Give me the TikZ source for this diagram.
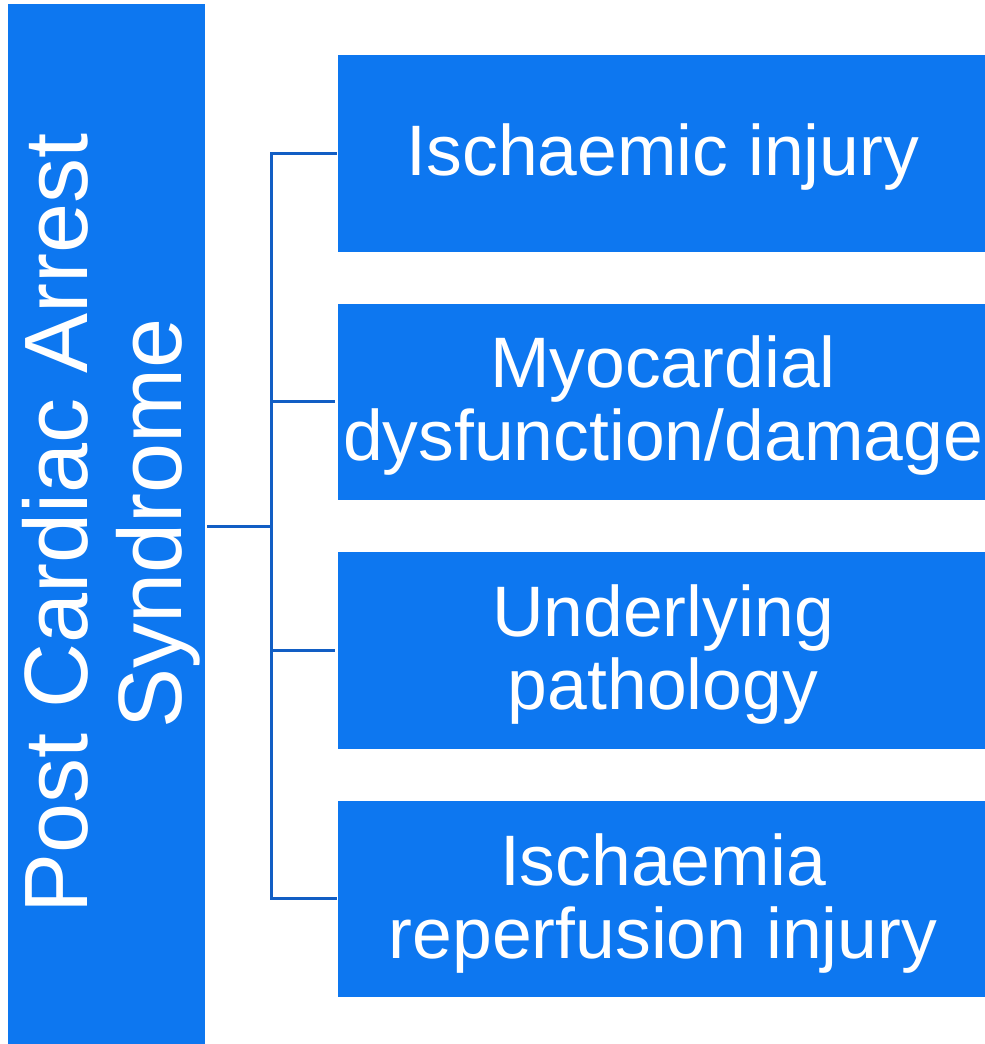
\documentclass[tikz,border=0pt]{standalone}
\usepackage{fontspec}
\setmainfont{Liberation Sans}
\definecolor{boxblue}{RGB}{13,119,240}
\definecolor{lineblue}{RGB}{18,94,196}
\begin{document}
\begin{tikzpicture}[x=1pt,y=-1pt,
  bluebox/.style={draw=none,fill=boxblue,rectangle,inner sep=0pt,minimum width=647pt,minimum height=196.5pt},
  boxtext/.style={text=white,anchor=base,inner sep=0pt,font=\fontsize{71.5}{73.5}\selectfont},
  sidetext/.style={text=white,anchor=base,inner sep=0pt,rotate=90,font=\fontsize{90}{94}\selectfont},
  conn/.style={draw=lineblue,line width=3pt}]
\useasboundingbox (0,0) rectangle (985,1044);
% left box
\node[draw=none,fill=boxblue,rectangle,inner sep=0pt,minimum width=196.5pt,minimum height=1040.5pt] (L) at (106.25,523.75) {};
\node[sidetext] (L1) at (87,523.5) {Post Cardiac Arrest};
\node[sidetext] (L2) at (181,523.5) {Syndrome};
% right boxes
\node[bluebox] (b1) at (661.5,153.25) {};
\node[bluebox] (b2) at (661.5,401.75) {};
\node[bluebox] (b3) at (661.5,650.25) {};
\node[bluebox] (b4) at (661.5,898.75) {};
\node[boxtext] (t1) at (663,175) {Ischaemic injury};
\node[boxtext] (t2a) at (663,387) {Myocardial};
\node[boxtext] (t2b) at (663,460) {dysfunction/damage};
\node[boxtext] (t3a) at (663,636) {Underlying};
\node[boxtext] (t3b) at (663,709) {pathology};
\node[boxtext] (t4a) at (663,885) {Ischaemia};
\node[boxtext] (t4b) at (663,958) {reperfusion injury};
% connectors
\coordinate (hub) at (271,526);
\draw[conn,shorten <=2.5pt] (L.east |- hub) -- (hub);
\draw[conn,line cap=rect,shorten >=2.5pt] (hub) |- (b1.west);
\draw[conn,shorten >=2.5pt] (hub) |- (b2.west);
\draw[conn,shorten >=2.5pt] (hub) |- (b3.west);
\draw[conn,line cap=rect,shorten >=2.5pt] (hub) |- (b4.west);
\end{tikzpicture}
\end{document}
